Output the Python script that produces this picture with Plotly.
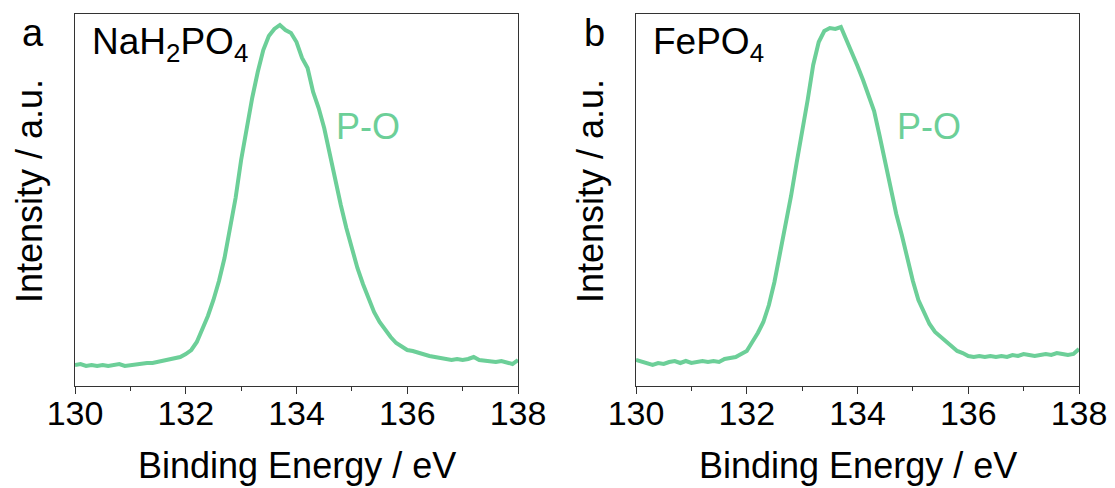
import plotly.graph_objects as go
from plotly.subplots import make_subplots

# Binding energy grid (eV), 0.1 eV steps
energy = [round(130 + 0.1 * i, 1) for i in range(81)]

# P 2p region, NaH2PO4 (a.u.)
nah2po4 = [
    21, 22, 20, 21, 20, 21, 20, 21, 22, 20,
    21, 22, 22, 23, 23, 24, 25, 26, 28, 29,
    32, 36, 44, 56, 70, 86, 105, 128, 156, 188,
    226, 259, 288, 314, 336, 350, 357, 361, 356, 353,
    344, 328, 318, 294, 278, 258, 231, 208, 181, 158,
    136, 118, 102, 88, 74, 64, 56, 49, 43, 40,
    36, 35, 33, 32, 30, 29, 28, 27, 26, 27,
    26, 27, 29, 26, 25, 25, 24, 25, 23, 22,
    26,
]

# P 2p region, FePO4 (a.u.)
fepo4 = [
    26, 24, 22, 21, 23, 22, 24, 25, 23, 25,
    23, 24, 25, 24, 25, 24, 27, 28, 29, 32,
    35, 44, 53, 64, 81, 104, 131, 160, 190, 223,
    253, 286, 321, 344, 355, 358, 357, 359, 346, 334,
    320, 306, 291, 275, 250, 223, 197, 172, 151, 127,
    105, 86, 73, 62, 54, 49, 44, 39, 35, 33,
    30, 29, 30, 29, 30, 29, 30, 29, 31, 30,
    32, 31, 30, 31, 32, 31, 33, 32, 31, 32,
    37,
]

x_ticks = [130, 132, 134, 136, 138]
panel_letters = ["a", "b"]
sample_names = ["NaH<sub>2</sub>PO<sub>4</sub>", "FePO<sub>4</sub>"]
peak_label = "P-O"
x_title = "Binding Energy / eV"
y_title = "Intensity / a.u."

W, H = 1115, 488
FONT = "Liberation Sans, Arial, sans-serif"
GREEN = "#6ccf98"
AXIS = "#333333"

# panel frames in pixels: (left, right), shared top/bottom
panels = [(75, 518), (636, 1079)]
top_px, bottom_px = 14, 386

fig = make_subplots(rows=1, cols=2)

for i, series in enumerate([nah2po4, fepo4]):
    fig.add_trace(
        go.Scatter(x=energy, y=series, mode="lines",
                   line=dict(color=GREEN, width=4), showlegend=False),
        row=1, col=i + 1,
    )

def px_x(p):
    return p / W

def px_y(p):
    return 1 - p / H

for i, (l, r) in enumerate(panels):
    ax = "xaxis" if i == 0 else "xaxis2"
    ay = "yaxis" if i == 0 else "yaxis2"
    fig.layout[ax].update(
        domain=[px_x(l), px_x(r)], range=[130, 138], automargin=False,
        tickvals=x_ticks, ticks="outside", ticklen=7, tickwidth=1.3,
        tickcolor=AXIS, showline=True, linecolor=AXIS, linewidth=1.3,
        mirror=True, showgrid=False, zeroline=False, ticklabelstandoff=-10,
        tickfont=dict(family=FONT, size=34, color="black"),
        minor=dict(dtick=1, tick0=130, ticks="outside", ticklen=4,
                   tickwidth=1.3, tickcolor=AXIS, showgrid=False),
    )
    fig.layout[ay].update(
        domain=[px_y(bottom_px), px_y(top_px)], range=[0, 372],
        automargin=False,
        showticklabels=False, ticks="", showline=True, linecolor=AXIS,
        linewidth=1.3, mirror=True, showgrid=False, zeroline=False,
    )

    cx = (l + r) / 2
    # x-axis title
    fig.add_annotation(text=x_title, x=px_x(cx), y=px_y(465), xref="paper",
                       yref="paper", showarrow=False, xanchor="center",
                       yanchor="middle",
                       font=dict(family=FONT, size=36, color="black"))
    # y-axis title
    fig.add_annotation(text=y_title, x=px_x(l - 46), y=px_y(191),
                       xref="paper", yref="paper", showarrow=False,
                       textangle=-90, xanchor="center", yanchor="middle",
                       font=dict(family=FONT, size=36, color="black"))
    # panel letter
    fig.add_annotation(text=panel_letters[i], x=px_x(l - 42), y=px_y(33),
                       xref="paper", yref="paper", showarrow=False,
                       xanchor="center", yanchor="middle",
                       font=dict(family=FONT, size=38, color="black"))
    # sample name
    fig.add_annotation(text=sample_names[i], x=px_x(l + 15), y=px_y(44),
                       xref="paper", yref="paper", showarrow=False,
                       xanchor="left", yanchor="middle",
                       font=dict(family=FONT, size=37, color="black"))
    # peak label
    fig.add_annotation(text=peak_label, x=px_x(l + 259), y=px_y(126),
                       xref="paper", yref="paper", showarrow=False,
                       xanchor="left", yanchor="middle",
                       font=dict(family=FONT, size=36, color=GREEN))

fig.update_layout(
    width=W, height=H, margin=dict(l=0, r=0, t=0, b=0),
    paper_bgcolor="white", plot_bgcolor="white",
)

fig.write_html("out.html")
